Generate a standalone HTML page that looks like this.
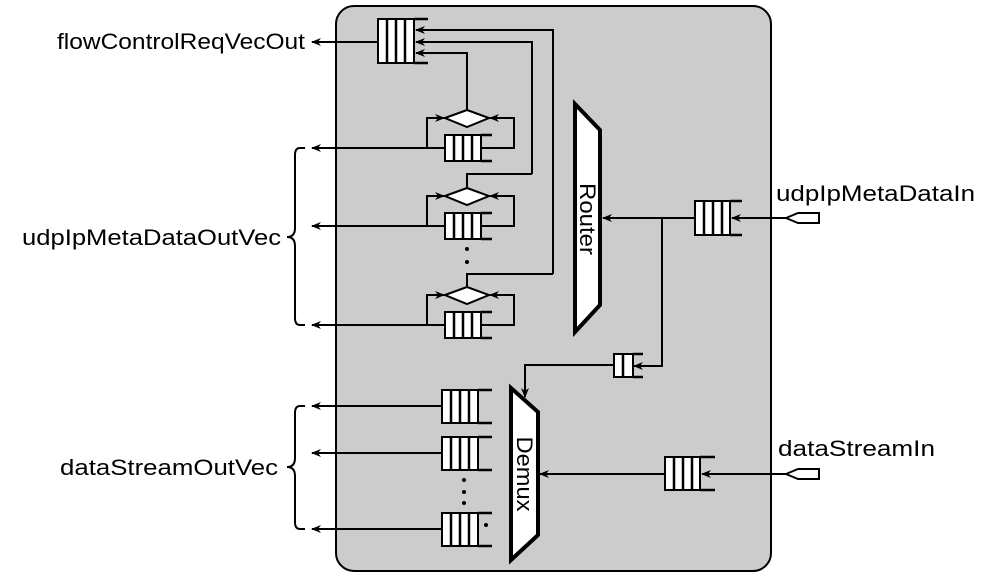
<!DOCTYPE html>
<html><head><style>
body{margin:0;background:#fff;}
svg{display:block;}
text{font-family:"Comic Sans MS","Liberation Sans",sans-serif;font-size:22px;fill:#000;}
</style></head><body>
<svg width="1000" height="579" viewBox="0 0 1000 579" xmlns="http://www.w3.org/2000/svg">
<defs>
<marker id="a" markerWidth="10" markerHeight="8" refX="9" refY="4" orient="auto" markerUnits="userSpaceOnUse">
<path d="M0,0 L10,4 L0,8 L3,4 Z" fill="#000"/></marker>
</defs>
<rect x="336" y="6" width="435" height="565" rx="18" fill="#cccccc" stroke="#000" stroke-width="2"/>
<g stroke="#000" stroke-width="2" fill="none">
<rect x="378" y="19" width="36" height="44" fill="#fff"/>
<path d="M387,19V63M396,19V63M405,19V63M414,19H428M414,63H428" stroke-width="2.5"/>
<path d="M378,42H312" marker-end="url(#a)"/>
<path d="M553,274V30H416" marker-end="url(#a)"/>
<path d="M532,174V42H416" marker-end="url(#a)"/>
<path d="M467,110V53H416" marker-end="url(#a)"/>
<path d="M467,187V174H532"/>
<path d="M467,286V274H553"/>
<g id="st">
<polygon points="445,118 467,110 489,118 467,127" fill="#fff"/>
<rect x="445" y="135" width="36" height="26" fill="#fff"/>
<path d="M454,135V161M463,135V161M472,135V161M481,135H492M481,161H492" stroke-width="2.5"/>
<path d="M445,148H312" marker-end="url(#a)"/>
<path d="M427,148V118H444" marker-end="url(#a)"/>
<path d="M481,148H514V118H490" marker-end="url(#a)"/>
</g>
<use href="#st" y="78"/>
<use href="#st" y="177"/>
<polygon points="575,104 600,130 600,305 575,332" fill="#fff" stroke-width="4"/>
<rect x="695" y="201" width="35" height="34" fill="#fff"/>
<path d="M704,201V235M713,201V235M722,201V235M730,201H742M730,235H742" stroke-width="2.5"/>
<path d="M786,218H732" marker-end="url(#a)"/>
<polygon points="786,218 798,213 819,213 819,223 798,223" fill="#fff"/>
<path d="M695,218H603" marker-end="url(#a)"/>
<path d="M662,218V366H634" marker-end="url(#a)"/>
<rect x="614" y="354" width="19" height="23" fill="#fff"/>
<path d="M623,354V377M633,354H643M633,377H643" stroke-width="2.5"/>
<path d="M614,365H525V397" marker-end="url(#a)"/>
<polygon points="511,388 538,412 538,535 511,560" fill="#fff" stroke-width="4"/>
<g id="dq">
<rect x="442" y="390" width="36" height="33" fill="#fff"/>
<path d="M451,390V423M460,390V423M469,390V423M478,390H492M478,423H492" stroke-width="2.5"/>
<path d="M442,406H312" marker-end="url(#a)"/>
</g>
<use href="#dq" y="47"/>
<use href="#dq" y="123"/>
<rect x="665" y="457" width="35" height="33" fill="#fff"/>
<path d="M674,457V490M683,457V490M692,457V490M700,457H715M700,490H715" stroke-width="2.5"/>
<path d="M786,474H702" marker-end="url(#a)"/>
<polygon points="786,474 798,469 819,469 819,479 798,479" fill="#fff"/>
<path d="M665,474H540" marker-end="url(#a)"/>
<path d="M305,148H300Q295,148 295,155V228Q295,237 287,237Q295,237 295,246V318Q295,325 300,325H305"/>
<path d="M305,406H300Q295,406 295,413V458Q295,467 287,467Q295,467 295,476V522Q295,529 300,529H305"/>
</g>
<g fill="#000">
<circle cx="467" cy="249" r="2"/><circle cx="467" cy="262" r="2"/>
<circle cx="464" cy="480" r="2"/><circle cx="464" cy="492" r="2"/><circle cx="464" cy="503" r="2"/>
<circle cx="486" cy="525" r="2"/>
</g>
<text x="57" y="49" textLength="248" lengthAdjust="spacingAndGlyphs">flowControlReqVecOut</text>
<text x="22" y="245" textLength="259" lengthAdjust="spacingAndGlyphs">udpIpMetaDataOutVec</text>
<text x="60" y="475" textLength="218" lengthAdjust="spacingAndGlyphs">dataStreamOutVec</text>
<text x="776" y="201" textLength="199" lengthAdjust="spacingAndGlyphs">udpIpMetaDataIn</text>
<text x="778" y="456" textLength="157" lengthAdjust="spacingAndGlyphs">dataStreamIn</text>
<text transform="translate(580,219) rotate(90)" text-anchor="middle" textLength="72" lengthAdjust="spacingAndGlyphs">Router</text>
<text transform="translate(517,474) rotate(90)" text-anchor="middle" textLength="75" lengthAdjust="spacingAndGlyphs">Demux</text>
</svg>
</body></html>
